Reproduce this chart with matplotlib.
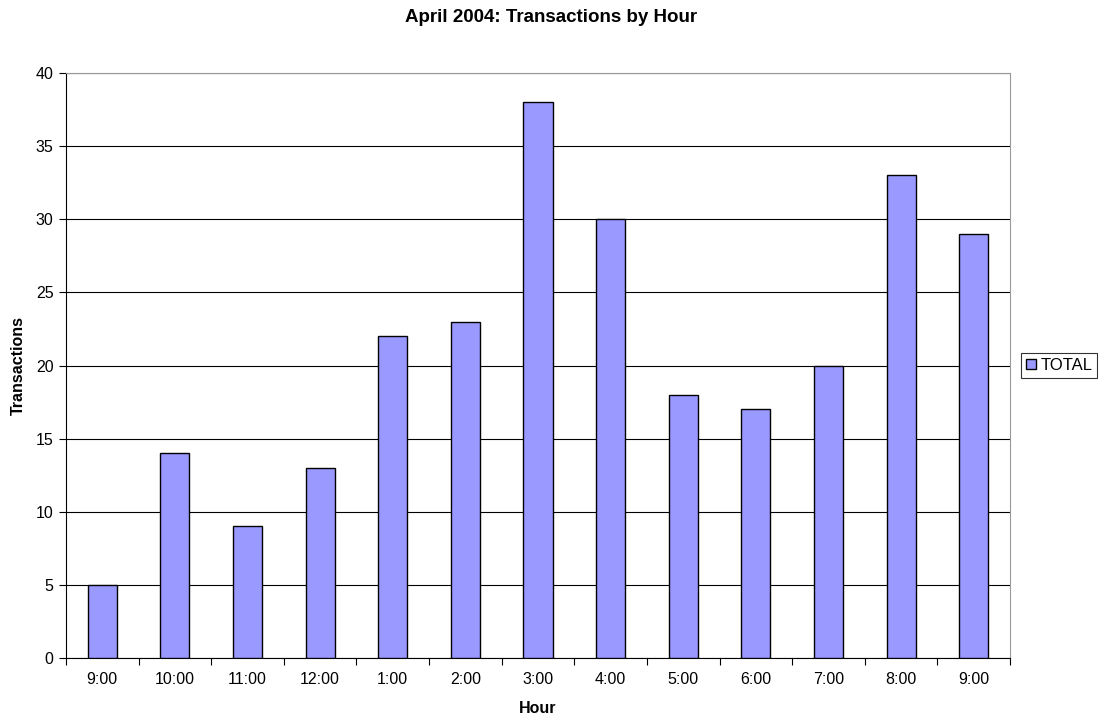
import matplotlib
matplotlib.use("Agg")
import matplotlib.pyplot as plt
import numpy as np

hours = ["9:00", "10:00", "11:00", "12:00", "1:00", "2:00", "3:00", "4:00",
         "5:00", "6:00", "7:00", "8:00", "9:00"]
totals = [5, 14, 9, 13, 22, 23, 38, 30, 18, 17, 20, 33, 29]

plt.rcParams['font.family'] = ['Liberation Sans', 'DejaVu Sans']

fig = plt.figure(figsize=(11.03, 7.23), dpi=100)
ax = fig.add_axes([66/1103, 65/723, 944/1103, 585/723])

x = np.arange(len(hours))
ax.bar(x, totals, width=0.4, color="#9999FF", edgecolor="black", linewidth=1.0,
       label="TOTAL", zorder=3)

ax.set_xlim(-0.5, len(hours) - 0.5)
ax.set_ylim(0, 40)
ax.set_yticks(range(0, 41, 5))
ax.yaxis.grid(True, color="black", linewidth=0.8, zorder=0)
ax.set_axisbelow(True)

ax.set_xticks(x)
ax.set_xticklabels(hours, fontsize=11.5)
ax.tick_params(axis='x', length=0, pad=10)
ax.set_xticks(np.arange(-0.5, len(hours), 1), minor=True)
ax.tick_params(axis='x', which='minor', length=5, direction='out', width=0.8)
ax.tick_params(axis='y', length=5, direction='out', labelsize=11.5, width=0.8, pad=4)

for s in ['top', 'right']:
    ax.spines[s].set_color("#999999")
for s in ['left', 'bottom']:
    ax.spines[s].set_color("black")

ax.set_xlabel("Hour", fontsize=11.5, fontweight='bold', labelpad=10)
ax.set_ylabel("Transactions", fontsize=11.5, fontweight='bold', labelpad=7)
fig.suptitle("April 2004: Transactions by Hour", fontsize=13.5, fontweight='bold',
             y=1 - 18/723, va='center')

leg = ax.legend(loc='center left', bbox_to_anchor=(1.0117, 0.5), fontsize=12,
                frameon=True, fancybox=False, edgecolor='black', handlelength=0.6,
                handleheight=0.6, handletextpad=0.25, borderpad=0.3, borderaxespad=0)
leg.get_frame().set_linewidth(0.8)

fig.savefig("out.png", dpi=100)
